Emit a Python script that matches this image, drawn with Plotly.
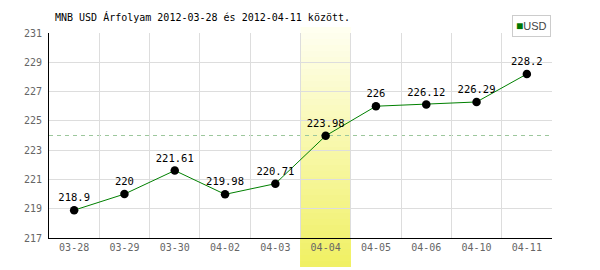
import plotly.graph_objects as go

categories = ["03-28", "03-29", "03-30", "04-02", "04-03", "04-04", "04-05", "04-06", "04-10", "04-11"]
usd_values = [218.9, 220, 221.61, 219.98, 220.71, 223.98, 226, 226.12, 226.29, 228.2]
value_labels = ["218.9", "220", "221.61", "219.98", "220.71", "223.98", "226", "226.12", "226.29", "228.2"]
y_ticks = [217, 219, 221, 223, 225, 227, 229, 231]
reference_level = 224
highlight_category = "04-04"
title_text = "MNB USD Árfolyam 2012-03-28 és 2012-04-11 között."
series_name = "USD"

MONO = "DejaVu Sans Mono, Liberation Mono, monospace"

fig = go.Figure()

fig.add_trace(go.Scatter(
    x=categories, y=usd_values, mode="lines+markers+text",
    text=value_labels, textposition="top center",
    textfont=dict(family=MONO, size=10.5, color="#000000"),
    line=dict(color="#008000", width=1),
    marker=dict(color="#000000", size=8.5),
    cliponaxis=False, showlegend=False, name=series_name,
))

# highlighted category band (vertical gradient, built from nested strips: no seams)
hi = categories.index(highlight_category)
y_top, y_bot = 1.029, -0.1415
n = 40
top_c = (255, 255, 242)
bot_c = (240, 240, 98)
shapes = []
for i in range(n):
    f = (i + 0.5) / n
    c = tuple(round(top_c[k] + (bot_c[k] - top_c[k]) * f) for k in range(3))
    y1 = y_top - (y_top - y_bot) * i / n
    shapes.append(dict(type="rect", xref="x", yref="paper", x0=hi - 0.5, x1=hi + 0.5,
                       y0=y_bot, y1=y1,
                       fillcolor="rgb(%d,%d,%d)" % c,
                       line=dict(width=0), layer="between"))
shapes.append(dict(type="line", xref="paper", yref="y", x0=0, x1=1,
                   y0=reference_level, y1=reference_level,
                   line=dict(color="#9cc79c", width=1, dash="4px,4px"), layer="between"))

fig.update_layout(
    width=600, height=270,
    margin=dict(l=49, r=48, t=33, b=32),
    paper_bgcolor="#ffffff", plot_bgcolor="#ffffff",
    shapes=shapes,
    showlegend=False,
    annotations=[
        dict(text=title_text, xref="paper", yref="paper", x=0.008, y=1.078,
             xanchor="left", yanchor="middle", showarrow=False,
             font=dict(family=MONO, size=10, color="#000000")),
        dict(text="<span style='color:#007700;font-size:12px'>■</span>" + series_name,
             xref="paper", yref="paper", x=0.960, y=1.034,
             xanchor="center", yanchor="middle", showarrow=False,
             bordercolor="#cccccc", borderwidth=1, borderpad=3, bgcolor="#ffffff",
             font=dict(family="Liberation Sans Narrow, Liberation Sans, Arial", size=11, color="#444444")),
    ],
    xaxis=dict(
        type="category", range=[-0.5, len(categories) - 0.5],
        tickson="boundaries", showgrid=True, gridcolor="#dddddd", gridwidth=1,
        showline=True, linecolor="#000000", linewidth=1, ticks="",
        tickfont=dict(family=MONO, size=10, color="#666666"),
        fixedrange=True, mirror=False,
    ),
    yaxis=dict(
        range=[217, 231], tickvals=y_ticks, showgrid=True, gridcolor="#dddddd", gridwidth=1,
        showline=True, linecolor="#000000", linewidth=1, ticks="", zeroline=False,
        tickfont=dict(family=MONO, size=10, color="#666666"), ticklabelstandoff=4,
    ),
)

fig.write_html("out.html")
